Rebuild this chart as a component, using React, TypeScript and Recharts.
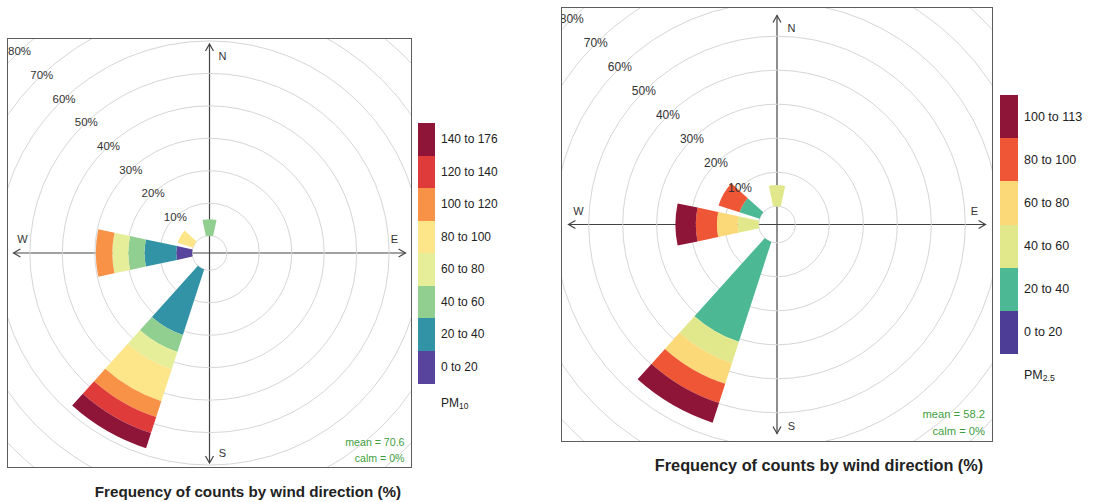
import React from 'react';
import { RadialBarChart, RadialBar, PolarGrid, PolarAngleAxis, PolarRadiusAxis } from 'recharts';

const FONT = '"Liberation Sans", Arial, Helvetica, sans-serif';

// wind directions (degrees, clockwise from north)
const DIRECTIONS = [0, 30, 60, 90, 120, 150, 180, 210, 240, 270, 300, 330];

// PM10 – frequency (%) per concentration bin, per direction
const PM10_BINS = ['0 to 20', '20 to 40', '40 to 60', '60 to 80', '80 to 100', '100 to 120', '120 to 140', '140 to 176'];
const PM10_COLORS = ['#58449c', '#3393a6', '#90cf8f', '#e6ee9a', '#fde58a', '#f79246', '#de3b3a', '#8e1538'];
const PM10_0_20 = [0, 0, 0, 0, 0, 0, 0, 0, 0, 4.9, 0, 0];
const PM10_20_40 = [0, 0, 0, 0, 0, 0, 0, 21.2, 0, 9.8, 0, 0];
const PM10_40_60 = [5.1, 0, 0, 0, 0, 0, 0, 5.5, 0, 5.0, 0, 0];
const PM10_60_80 = [0, 0, 0, 0, 0, 0, 0, 5.6, 0, 4.9, 0, 0];
const PM10_80_100 = [0, 0, 0, 0, 0, 0, 0, 10.4, 0, 0, 5.0, 0];
const PM10_100_120 = [0, 0, 0, 0, 0, 0, 0, 5.1, 0, 5.1, 0, 0];
const PM10_120_140 = [0, 0, 0, 0, 0, 0, 0, 5.2, 0, 0, 0, 0];
const PM10_140_176 = [0, 0, 0, 0, 0, 0, 0, 4.9, 0, 0, 0, 0];

// PM2.5
const PM25_BINS = ['0 to 20', '20 to 40', '40 to 60', '60 to 80', '80 to 100', '100 to 113'];
const PM25_COLORS = ['#4e3d96', '#4db994', '#e1e88b', '#fbd878', '#ee5636', '#8e1538'];
const PM25_0_20 = [0, 0, 0, 0, 0, 0, 0, 0, 0, 0, 0, 0];
const PM25_20_40 = [0, 0, 0, 0, 0, 0, 0, 30.9, 0, 0, 6.2, 0];
const PM25_40_60 = [6.2, 0, 0, 0, 0, 0, 0, 6.6, 0, 6.2, 0, 0];
const PM25_60_80 = [0, 0, 0, 0, 0, 0, 0, 6.4, 0, 6.1, 0, 0];
const PM25_80_100 = [0, 0, 0, 0, 0, 0, 0, 5.9, 0, 6.2, 6.5, 0];
const PM25_100_113 = [0, 0, 0, 0, 0, 0, 0, 6.1, 0, 6.0, 0, 0];

const TITLE = 'Frequency of counts by wind direction (%)';

function buildData(series: number[][]) {
  return DIRECTIONS.map((d, i) => {
    const row: any = { dir: String(d) };
    series.forEach((s, j) => { row['b' + j] = s[i]; });
    return row;
  });
}

const pm10Data = buildData([PM10_0_20, PM10_20_40, PM10_40_60, PM10_60_80, PM10_80_100, PM10_100_120, PM10_120_140, PM10_140_176]);
const pm25Data = buildData([PM25_0_20, PM25_20_40, PM25_40_60, PM25_60_80, PM25_80_100, PM25_100_113]);

type PanelProps = {
  left: number; top: number; width: number; height: number;
  innerR: number; outerR: number;
  data: any[]; colors: string[];
  mean: string;
  ringFont: number; dirFont: number; meanFont: number; ringAngle: number;
  hExt: number; vTop: number; vBot: number;
  dirPos: { N: [number, number]; S: [number, number]; W: [number, number]; E: [number, number] };
  meanPos: [number, number, number];
};

function Arrow({ x1, y1, x2, y2 }: { x1: number; y1: number; x2: number; y2: number }) {
  const dx = x2 - x1, dy = y2 - y1;
  const len = Math.sqrt(dx * dx + dy * dy);
  const ux = dx / len, uy = dy / len;
  const L = 8, a = (30 * Math.PI) / 180;
  const p1x = x2 - L * (ux * Math.cos(a) - uy * Math.sin(a));
  const p1y = y2 - L * (uy * Math.cos(a) + ux * Math.sin(a));
  const p2x = x2 - L * (ux * Math.cos(a) + uy * Math.sin(a));
  const p2y = y2 - L * (uy * Math.cos(a) - ux * Math.sin(a));
  return (
    <g stroke="#444" strokeWidth={1.2} fill="none">
      <line x1={x1} y1={y1} x2={x2} y2={y2} />
      <polyline points={`${p1x},${p1y} ${x2},${y2} ${p2x},${p2y}`} />
    </g>
  );
}

function Panel(p: PanelProps) {
  const w = p.width - 2;
  const h = p.height - 2;
  const cx = w / 2;
  const cy = h / 2;
  const renderTick = (props: any) => {
    const v = props.payload?.value;
    if (!v) return <g />;
    return (
      <text x={props.x} y={props.y} textAnchor="middle" dominantBaseline="central"
        fontSize={p.ringFont} fontFamily={FONT} fill="#333">{v}%</text>
    );
  };
  const dirText = (label: string, pos: [number, number]) => (
    <text x={cx + pos[0]} y={cy + pos[1]} textAnchor="middle" dominantBaseline="central"
      fontSize={p.dirFont} fontFamily={FONT} fill="#333">{label}</text>
  );
  return (
    <div style={{ position: 'absolute', left: p.left, top: p.top, width: p.width, height: p.height,
      border: '1px solid #5c5c5c', boxSizing: 'border-box', overflow: 'hidden', background: '#fff' }}>
      <svg width={w} height={h} style={{ position: 'absolute', left: 0, top: 0 }}>
        <Arrow x1={cx} y1={cy} x2={cx - p.hExt} y2={cy} />
        <Arrow x1={cx} y1={cy} x2={cx + p.hExt} y2={cy} />
        <Arrow x1={cx} y1={cy} x2={cx} y2={cy - p.vTop} />
        <Arrow x1={cx} y1={cy} x2={cx} y2={cy + p.vBot} />
      </svg>
      <div style={{ position: 'absolute', left: 0, top: 0 }}>
        <RadialBarChart width={w} height={h} cx={cx} cy={cy} innerRadius={p.innerR} outerRadius={p.outerR}
          data={p.data} layout="centric" startAngle={75} endAngle={-285} barCategoryGap="10%"
          margin={{ top: 0, right: 0, bottom: 0, left: 0 }}>
          <PolarGrid gridType="circle" radialLines={false} stroke="#d6d6d6" />
          <PolarAngleAxis dataKey="dir" type="category" tick={false} axisLine={false} tickLine={false} />
          {p.colors.map((c, i) => (
            <RadialBar key={i} dataKey={'b' + i} stackId="s" fill={c} isAnimationActive={false} />
          ))}
          <PolarRadiusAxis type="number" domain={[0, 80]} tickCount={9} angle={p.ringAngle}
            axisLine={false} tickLine={false} tick={renderTick} />
        </RadialBarChart>
      </div>
      <svg width={w} height={h} style={{ position: 'absolute', left: 0, top: 0, pointerEvents: 'none' }}>
        {dirText('N', p.dirPos.N)}
        {dirText('S', p.dirPos.S)}
        {dirText('W', p.dirPos.W)}
        {dirText('E', p.dirPos.E)}
        <text x={cx + p.meanPos[0]} y={cy + p.meanPos[1]} textAnchor="end" dominantBaseline="central"
          fontSize={p.meanFont} fontFamily={FONT} fill="#3f9f3f">{p.mean}</text>
        <text x={cx + p.meanPos[0]} y={cy + p.meanPos[2]} textAnchor="end" dominantBaseline="central"
          fontSize={p.meanFont} fontFamily={FONT} fill="#3f9f3f">calm = 0%</text>
      </svg>
    </div>
  );
}

function Legend({ left, top, boxW, totalH, labels, colors, fontSize, labelX, pollutant, sub, pollY }:
  { left: number; top: number; boxW: number; totalH: number; labels: string[]; colors: string[];
    fontSize: number; labelX: number; pollutant: string; sub: string; pollY: number }) {
  const n = labels.length;
  const bh = totalH / n;
  const rev = labels.map((l, i) => ({ l, c: colors[i] })).reverse();
  return (
    <>
      {rev.map((r, i) => (
        <React.Fragment key={i}>
          <div style={{ position: 'absolute', left, top: top + i * bh, width: boxW, height: bh + 0.5, background: r.c }} />
          <div style={{ position: 'absolute', left: labelX, top: top + i * bh + bh / 2, transform: 'translateY(-50%)',
            fontFamily: FONT, fontSize, color: '#222', whiteSpace: 'nowrap', lineHeight: 1 }}>{r.l}</div>
        </React.Fragment>
      ))}
      <div style={{ position: 'absolute', left: labelX, top: pollY, transform: 'translateY(-50%)',
        fontFamily: FONT, fontSize, color: '#222', whiteSpace: 'nowrap', lineHeight: 1 }}>
        {pollutant}<sub style={{ fontSize: fontSize * 0.7, verticalAlign: 'baseline', position: 'relative', top: 2 }}>{sub}</sub>
      </div>
    </>
  );
}

export default function App() {
  return (
    <div style={{ position: 'absolute', left: 0, top: 0, width: 1097, height: 502, background: '#fff', overflow: 'hidden' }}>
      <Panel left={7} top={38} width={405} height={430} innerR={17.3} outerR={277}
        data={pm10Data} colors={PM10_COLORS} mean="mean = 70.6"
        ringFont={11.5} dirFont={11} meanFont={10.6} ringAngle={133.3}
        hExt={196} vTop={209} vBot={210}
        dirPos={{ N: [13, -197], S: [13, 200], W: [-187, -14], E: [185, -14] }}
        meanPos={[195, 189, 205]} />
      <Legend left={418} top={123} boxW={17} totalH={260} labels={PM10_BINS} colors={PM10_COLORS}
        fontSize={12} labelX={441} pollutant="PM" sub="10" pollY={403} />
      <div style={{ position: 'absolute', left: 248, top: 491, transform: 'translate(-50%,-50%)', fontFamily: FONT,
        fontWeight: 'bold', fontSize: 15.2, color: '#222', whiteSpace: 'nowrap' }}>{TITLE}</div>

      <Panel left={561} top={7} width={432} height={435} innerR={18.3} outerR={290.3}
        data={pm25Data} colors={PM25_COLORS} mean="mean = 58.2"
        ringFont={12} dirFont={11} meanFont={11.2} ringAngle={135}
        hExt={208.5} vTop={209} vBot={209}
        dirPos={{ N: [14.5, -197], S: [14.5, 201], W: [-198.5, -14], E: [197.5, -14] }}
        meanPos={[208, 189.5, 206.5]} />
      <Legend left={1000} top={95} boxW={18} totalH={259} labels={PM25_BINS} colors={PM25_COLORS}
        fontSize={12.5} labelX={1024} pollutant="PM" sub="2.5" pollY={375} />
      <div style={{ position: 'absolute', left: 819, top: 465, transform: 'translate(-50%,-50%)', fontFamily: FONT,
        fontWeight: 'bold', fontSize: 16.3, color: '#222', whiteSpace: 'nowrap' }}>{TITLE}</div>
    </div>
  );
}
